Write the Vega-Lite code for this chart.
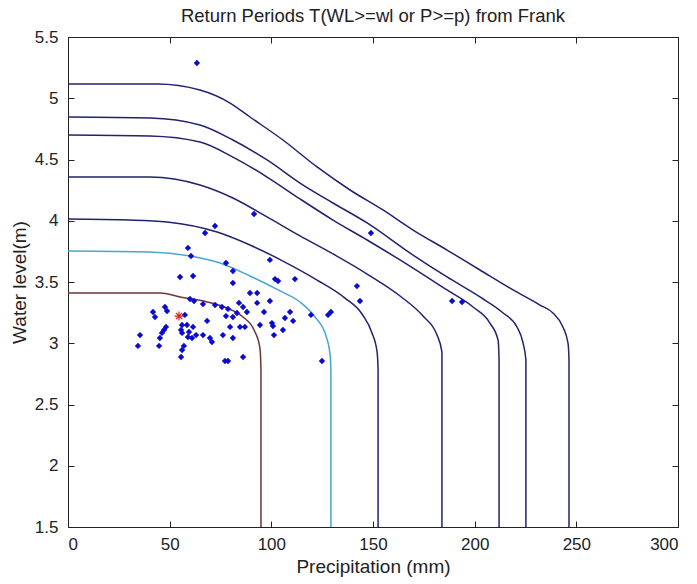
{
  "$schema": "https://vega.github.io/schema/vega-lite/v6.json",
  "width": 610,
  "height": 490,
  "autosize": "none",
  "padding": {"left": 68, "top": 37, "right": 19, "bottom": 57},
  "background": "white",
  "config": {
    "view": {"stroke": "#222"},
    "font": "Liberation Sans",
    "axis": {"grid": false, "domain": false, "tickColor": "#222", "tickSize": -6, "labelFontSize": 17, "labelColor": "#222", "titleFontSize": 19, "titleFontWeight": "normal", "titleColor": "#222", "labelFont": "Liberation Sans", "titleFont": "Liberation Sans"}
  },
  "title": {"text": "Return Periods T(WL>=wl or P>=p) from Frank", "fontSize": 18.5, "fontWeight": "normal", "color": "#222", "font": "Liberation Sans", "offset": 3},
  "datasets": {
    "curves": [
      {"c":"c1","i":0,"p":0,"w":3.410},{"c":"c1","i":1,"p":45.2,"w":3.410},{"c":"c1","i":2,"p":55.1,"w":3.378},{"c":"c1","i":3,"p":68.4,"w":3.337},{"c":"c1","i":4,"p":78.2,"w":3.288},{"c":"c1","i":5,"p":86.1,"w":3.214},{"c":"c1","i":6,"p":91.5,"w":3.108},{"c":"c1","i":7,"p":94.4,"w":2.961},{"c":"c1","i":8,"p":94.9,"w":2.782},{"c":"c1","i":9,"p":94.9,"w":1.5},
      {"c":"c2","i":0,"p":0,"w":3.753},{"c":"c2","i":1,"p":40.3,"w":3.745},{"c":"c2","i":2,"p":60,"w":3.712},{"c":"c2","i":3,"p":74.8,"w":3.655},{"c":"c2","i":4,"p":89.5,"w":3.549},{"c":"c2","i":5,"p":104.3,"w":3.427},{"c":"c2","i":6,"p":114.1,"w":3.337},{"c":"c2","i":7,"p":121.5,"w":3.214},{"c":"c2","i":8,"p":126.9,"w":3.059},{"c":"c2","i":9,"p":128.9,"w":2.904},{"c":"c2","i":10,"p":129.3,"w":2.782},{"c":"c2","i":11,"p":129.3,"w":1.5},
      {"c":"c3","i":0,"p":0,"w":4.014},{"c":"c3","i":1,"p":30.5,"w":4.006},{"c":"c3","i":2,"p":48.7,"w":3.990},{"c":"c3","i":3,"p":73.3,"w":3.908},{"c":"c3","i":4,"p":89.5,"w":3.802},{"c":"c3","i":5,"p":105.7,"w":3.671},{"c":"c3","i":6,"p":122.5,"w":3.516},{"c":"c3","i":7,"p":136.2,"w":3.369},{"c":"c3","i":8,"p":144.6,"w":3.239},{"c":"c3","i":9,"p":149.5,"w":3.084},{"c":"c3","i":10,"p":152,"w":2.929},{"c":"c3","i":11,"p":152.5,"w":2.782},{"c":"c3","i":12,"p":152.5,"w":1.5},
      {"c":"c4","i":0,"p":0,"w":4.357},{"c":"c4","i":1,"p":40.3,"w":4.357},{"c":"c4","i":2,"p":64.9,"w":4.292},{"c":"c4","i":3,"p":81.1,"w":4.186},{"c":"c4","i":4,"p":97.9,"w":4.031},{"c":"c4","i":5,"p":114.1,"w":3.876},{"c":"c4","i":6,"p":130.3,"w":3.729},{"c":"c4","i":7,"p":147.1,"w":3.565},{"c":"c4","i":8,"p":163.3,"w":3.386},{"c":"c4","i":9,"p":174.6,"w":3.222},{"c":"c4","i":10,"p":181.5,"w":3.067},{"c":"c4","i":11,"p":183.9,"w":2.929},{"c":"c4","i":12,"p":183.9,"w":1.5},
      {"c":"c5","i":0,"p":0,"w":4.70},{"c":"c5","i":1,"p":40.3,"w":4.692},{"c":"c5","i":2,"p":64.9,"w":4.643},{"c":"c5","i":3,"p":81.1,"w":4.520},{"c":"c5","i":4,"p":97.9,"w":4.357},{"c":"c5","i":5,"p":114.1,"w":4.178},{"c":"c5","i":6,"p":130.3,"w":4.006},{"c":"c5","i":7,"p":147.1,"w":3.843},{"c":"c5","i":8,"p":169.7,"w":3.614},{"c":"c5","i":9,"p":186.4,"w":3.435},{"c":"c5","i":10,"p":199.2,"w":3.296},{"c":"c5","i":11,"p":207.5,"w":3.165},{"c":"c5","i":12,"p":211.5,"w":3.027},{"c":"c5","i":13,"p":212,"w":2.863},{"c":"c5","i":14,"p":212,"w":1.5},
      {"c":"c6","i":0,"p":0,"w":4.847},{"c":"c6","i":1,"p":40.3,"w":4.839},{"c":"c6","i":2,"p":64.9,"w":4.782},{"c":"c6","i":3,"p":81.1,"w":4.659},{"c":"c6","i":4,"p":97.9,"w":4.496},{"c":"c6","i":5,"p":114.1,"w":4.308},{"c":"c6","i":6,"p":130.3,"w":4.145},{"c":"c6","i":7,"p":147.1,"w":3.982},{"c":"c6","i":8,"p":169.7,"w":3.720},{"c":"c6","i":9,"p":186.4,"w":3.541},{"c":"c6","i":10,"p":202.6,"w":3.378},{"c":"c6","i":11,"p":214,"w":3.247},{"c":"c6","i":12,"p":220.8,"w":3.133},{"c":"c6","i":13,"p":223.8,"w":3.002},{"c":"c6","i":14,"p":225.2,"w":2.863},{"c":"c6","i":15,"p":225.2,"w":1.5},
      {"c":"c7","i":0,"p":0,"w":5.116},{"c":"c7","i":1,"p":43.8,"w":5.116},{"c":"c7","i":2,"p":64.9,"w":5.067},{"c":"c7","i":3,"p":79.7,"w":4.961},{"c":"c7","i":4,"p":89.5,"w":4.847},{"c":"c7","i":5,"p":105.7,"w":4.659},{"c":"c7","i":6,"p":122.5,"w":4.439},{"c":"c7","i":7,"p":138.7,"w":4.251},{"c":"c7","i":8,"p":154.9,"w":4.088},{"c":"c7","i":9,"p":169.7,"w":3.924},{"c":"c7","i":10,"p":186.4,"w":3.761},{"c":"c7","i":11,"p":202.6,"w":3.598},{"c":"c7","i":12,"p":218.9,"w":3.435},{"c":"c7","i":13,"p":232.1,"w":3.312},{"c":"c7","i":14,"p":238.5,"w":3.247},{"c":"c7","i":15,"p":243.4,"w":3.133},{"c":"c7","i":16,"p":245.9,"w":3.002},{"c":"c7","i":17,"p":246.4,"w":2.863},{"c":"c7","i":18,"p":246.4,"w":1.5}
    ],
    "obs": [
      {"p":63.4,"w":5.288},{"p":91.5,"w":4.055},{"p":72.3,"w":3.957},{"p":67.4,"w":3.900},{"p":59.0,"w":3.778},{"p":60.5,"w":3.712},{"p":77.7,"w":3.655},{"p":81.1,"w":3.590},{"p":99.3,"w":3.680},{"p":101.8,"w":3.524},{"p":103.3,"w":3.508},{"p":111.6,"w":3.524},{"p":55.1,"w":3.541},{"p":61.5,"w":3.549},{"p":81.1,"w":3.492},{"p":89.5,"w":3.410},{"p":93.0,"w":3.410},{"p":99.3,"w":3.345},{"p":93.0,"w":3.329},{"p":149.0,"w":3.900},{"p":142.1,"w":3.467},{"p":143.6,"w":3.345},{"p":188.9,"w":3.345},{"p":193.8,"w":3.337},{"p":119.5,"w":3.231},{"p":127.9,"w":3.231},{"p":129.3,"w":3.255},{"p":124.9,"w":2.855},{"p":60.0,"w":3.361},{"p":62.0,"w":3.345},{"p":66.4,"w":3.320},{"p":72.3,"w":3.312},{"p":75.7,"w":3.296},{"p":78.7,"w":3.280},{"p":84.1,"w":3.329},{"p":86.1,"w":3.296},{"p":88.0,"w":3.255},{"p":96.4,"w":3.255},{"p":109.2,"w":3.255},{"p":110.7,"w":3.182},{"p":106.7,"w":3.206},{"p":105.7,"w":3.108},{"p":100.3,"w":3.165},{"p":100.8,"w":3.141},{"p":94.4,"w":3.149},{"p":87.0,"w":3.133},{"p":84.6,"w":3.133},{"p":79.7,"w":3.133},{"p":101.3,"w":3.067},{"p":81.1,"w":3.043},{"p":86.1,"w":2.888},{"p":41.8,"w":3.255},{"p":42.8,"w":3.214},{"p":47.7,"w":3.296},{"p":48.7,"w":3.263},{"p":57.5,"w":3.231},{"p":68.4,"w":3.182},{"p":77.7,"w":3.222},{"p":81.1,"w":3.214},{"p":83.1,"w":3.247},{"p":48.2,"w":3.133},{"p":47.2,"w":3.108},{"p":46.2,"w":3.084},{"p":35.4,"w":3.067},{"p":45.2,"w":3.043},{"p":44.8,"w":2.978},{"p":34.4,"w":2.978},{"p":56.1,"w":3.149},{"p":58.5,"w":3.149},{"p":56.1,"w":3.084},{"p":59.0,"w":3.051},{"p":61.0,"w":3.043},{"p":63.0,"w":3.067},{"p":66.4,"w":3.067},{"p":69.8,"w":3.043},{"p":70.8,"w":3.010},{"p":76.2,"w":3.067},{"p":57.0,"w":2.978},{"p":56.1,"w":2.945},{"p":55.6,"w":2.888},{"p":77.2,"w":2.855},{"p":78.7,"w":2.855},{"p":61.5,"w":3.133},{"p":59.5,"w":3.092},{"p":55.6,"w":3.108}
    ],
    "star": [{"p":54.6,"w":3.222}]
  },
  "resolve": {"axis": {"x": "independent", "y": "independent"}},
  "layer": [
    {
      "data": {"name": "curves"},
      "mark": {"type": "line", "strokeWidth": 1.5, "interpolate": "monotone"},
      "encoding": {
        "x": {"field": "p", "type": "quantitative", "scale": {"domain": [0, 300], "nice": false}, "axis": {"orient": "bottom", "title": "Precipitation (mm)", "format": "d", "values": [0,50,100,150,200,250,300], "labelPadding": 15, "titlePadding": 5}},
        "y": {"field": "w", "type": "quantitative", "scale": {"domain": [1.5, 5.5], "nice": false, "zero": false}, "axis": {"orient": "left", "title": "Water level(m)", "format": "~g", "values": [1.5,2,2.5,3,3.5,4,4.5,5,5.5], "labelPadding": 16, "titlePadding": 5}},
        "detail": {"field": "c"},
        "order": {"field": "i", "type": "quantitative"},
        "color": {"field": "c", "type": "nominal", "scale": {"domain": ["c1","c2","c3","c4","c5","c6","c7"], "range": ["#6e3535","#45a6d2","#22226e","#22226e","#22226e","#22226e","#22226e"]}, "legend": null}
      }
    },
    {
      "data": {"name": "obs"},
      "mark": {"type": "point", "shape": "diamond", "filled": true, "size": 40, "color": "#0a0ad0", "opacity": 1},
      "encoding": {
        "x": {"field": "p", "type": "quantitative", "axis": {"orient": "top", "title": null, "labels": false, "values": [0,50,100,150,200,250,300]}},
        "y": {"field": "w", "type": "quantitative", "axis": {"orient": "right", "title": null, "labels": false, "values": [1.5,2,2.5,3,3.5,4,4.5,5,5.5]}}
      }
    },
    {
      "data": {"name": "star"},
      "mark": {"type": "point", "shape": "M-1,0L1,0M0,-1L0,1M-0.7,-0.7L0.7,0.7M-0.7,0.7L0.7,-0.7", "filled": false, "size": 80, "stroke": "#e02020", "strokeWidth": 1.2, "opacity": 1},
      "encoding": {
        "x": {"field": "p", "type": "quantitative", "axis": null},
        "y": {"field": "w", "type": "quantitative", "axis": null}
      }
    }
  ]
}
